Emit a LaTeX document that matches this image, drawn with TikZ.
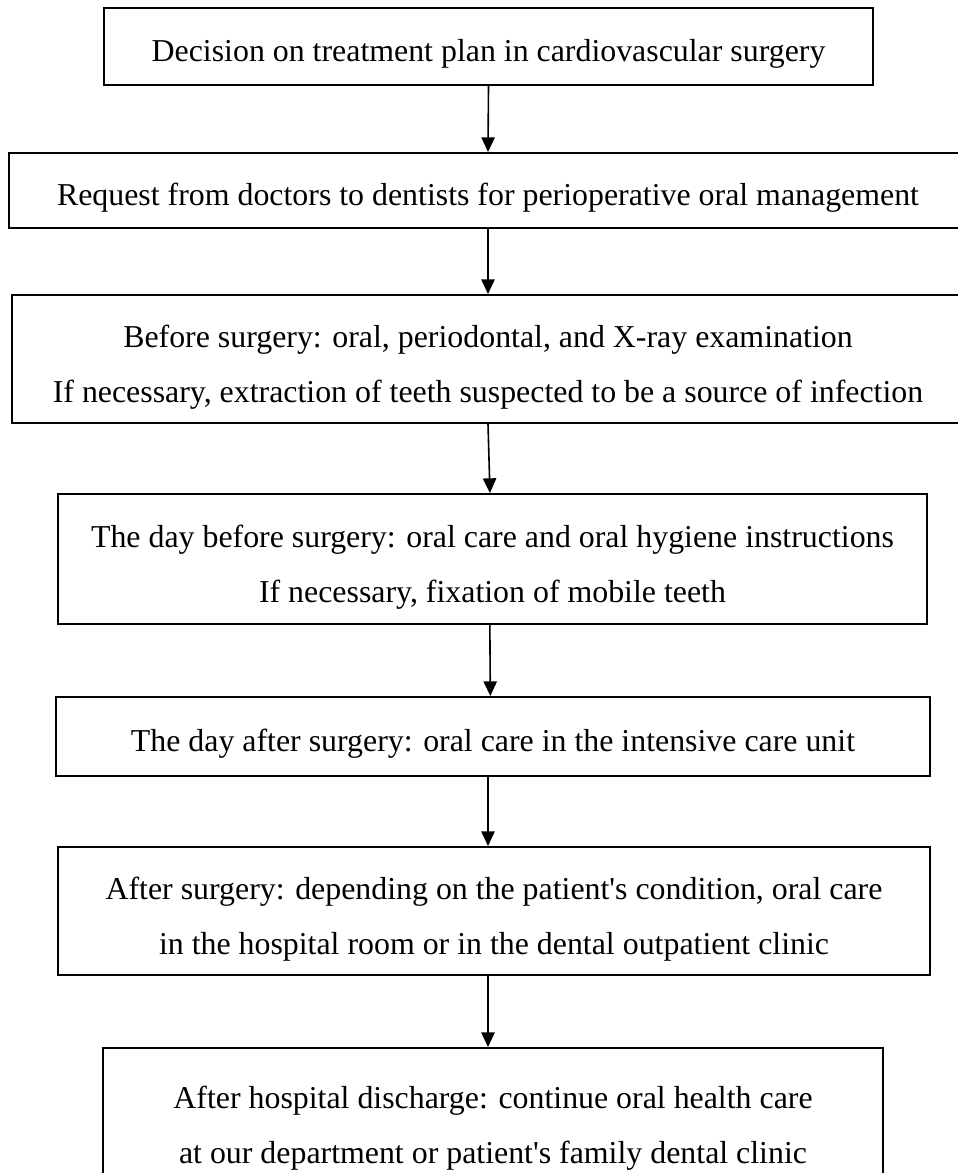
\documentclass[tikz,border=0pt]{standalone}
\usepackage{fontspec}
\setmainfont{Liberation Serif}
\usetikzlibrary{arrows.meta}
\begin{document}
\begin{tikzpicture}[x=0.75pt, y=-0.75pt]
		\tikzset{bx/.style={rectangle, draw=black, line width=1.5pt, align=center, font=\fontsize{23.9}{41.25}\selectfont, inner sep=0pt, text height=27.3pt}};
		\tikzset{twoline/.style={text height=70.8pt}};
		\tikzset{arr/.style={line width=1.2pt, -{Triangle[length=11pt, width=10pt]}}};

		\useasboundingbox (0,0) rectangle (957,1173);

		\node[bx, minimum width=576.75pt, minimum height=57.75pt] (b1) at (488.5, 46.5) {Decision on treatment plan in cardiovascular surgery};
		\node[bx, minimum width=718.5pt, minimum height=56.25pt] (b2) at (488, 190.5) {Request from doctors to dentists for perioperative oral management};
		\node[bx, twoline, minimum width=714pt, minimum height=96pt] (b3) at (488, 359) {Before surgery: oral, periodontal, and X-ray examination\\If necessary, extraction of teeth suspected to be a source of infection};
		\node[bx, twoline, minimum width=651.75pt, minimum height=97.5pt] (b4) at (492.5, 559) {The day before surgery: oral care and oral hygiene instructions\\If necessary, fixation of mobile teeth};
		\node[bx, minimum width=655.5pt, minimum height=59.25pt] (b5) at (493, 736.5) {The day after surgery: oral care in the intensive care unit};
		\node[bx, twoline, minimum width=654pt, minimum height=96pt] (b6) at (494, 911) {After surgery: depending on the patient\textquotesingle s condition, oral care\\in the hospital room or in the dental outpatient clinic};
		\node[bx, twoline, minimum width=585pt, minimum height=108pt] (b7) at (493, 1120) {After hospital discharge: continue oral health care\\at our department or patient\textquotesingle s family dental clinic};

		\draw[arr] (b1.south) to (b2.north);
		\draw[arr] (b2.south) to (b3.north);
		\draw[arr] (b3.south) to ([xshift=-1.9pt]b4.north);
		\draw[arr] ([xshift=-2pt]b4.south) to ([xshift=-2pt]b5.north);
		\draw[arr] ([xshift=-3.75pt]b5.south) to ([xshift=-4.5pt]b6.north);
		\draw[arr] ([xshift=-4.5pt]b6.south) to ([xshift=-3.75pt]b7.north);
\end{tikzpicture}
\end{document}
